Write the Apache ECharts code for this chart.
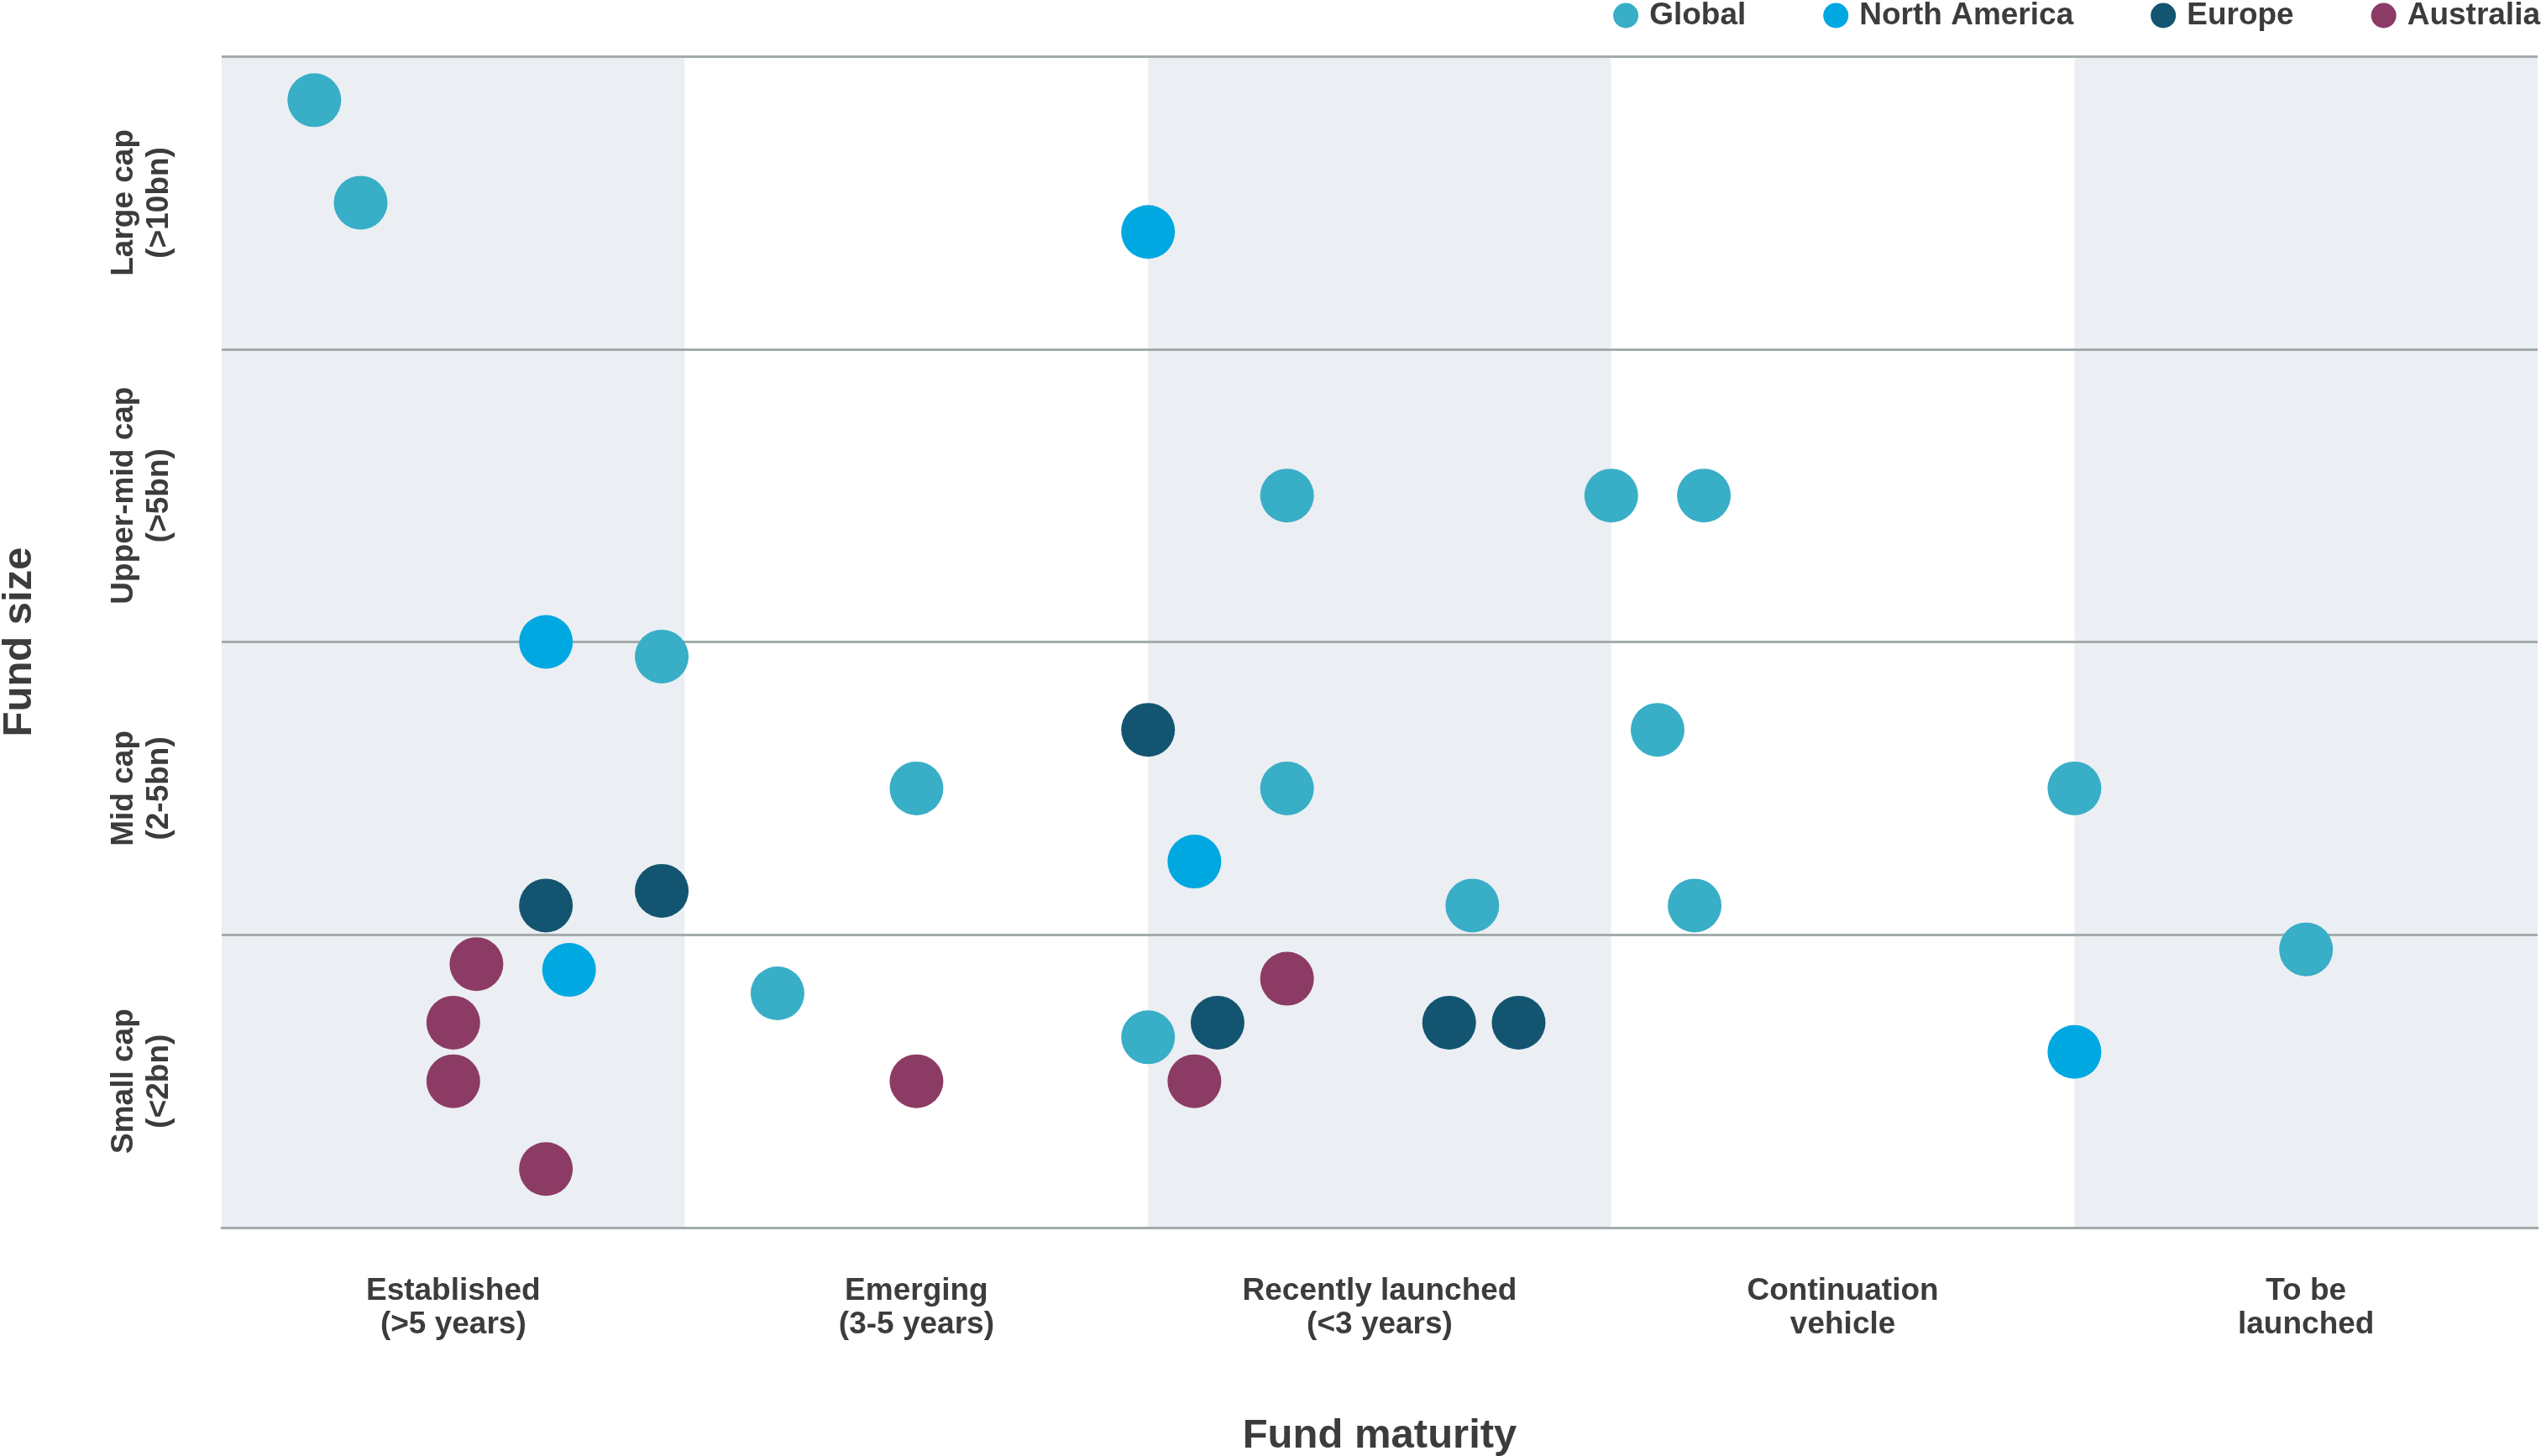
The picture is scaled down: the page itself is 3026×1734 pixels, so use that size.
<!DOCTYPE html>
<html>
<head>
<meta charset="utf-8">
<script src="https://cdn.jsdelivr.net/npm/echarts@6/dist/echarts.min.js"></script>
<style>
  html, body { margin: 0; padding: 0; background: #ffffff; }
  #chart { width: 3026px; height: 1734px; }
</style>
</head>
<body>
<div id="chart"></div>
<script>
// Categories
const maturityCategories = ['Established\n(>5 years)', 'Emerging\n(3-5 years)', 'Recently launched\n(<3 years)', 'Continuation\nvehicle', 'To be\nlaunched'];
const sizeCategories = ['Small cap\n(<2bn)', 'Mid cap\n(2-5bn)', 'Upper-mid cap\n(>5bn)', 'Large cap\n(>10bn)'];

// Series values: [maturity position (0-5), size position (0-4)]
const globalData = [
  [0.20, 3.85], [0.30, 3.50], [2.30, 2.50], [3.00, 2.50], [3.20, 2.50],
  [0.95, 1.95], [1.50, 1.50], [2.30, 1.50], [3.10, 1.70], [4.00, 1.50],
  [2.70, 1.10], [3.18, 1.10], [1.20, 0.80], [2.00, 0.65], [4.50, 0.95]
];
const northAmericaData = [
  [2.00, 3.40], [0.70, 2.00], [2.10, 1.25], [0.75, 0.88], [4.00, 0.60]
];
const europeData = [
  [2.00, 1.70], [0.70, 1.10], [0.95, 1.15], [2.15, 0.70], [2.65, 0.70], [2.80, 0.70]
];
const australiaData = [
  [0.55, 0.90], [0.50, 0.70], [0.50, 0.50], [0.70, 0.20], [1.50, 0.50], [2.30, 0.85], [2.10, 0.50]
];

const seriesNames = ['Global', 'North America', 'Europe', 'Australia'];
const seriesColors = ['#38AEC7', '#00A8E1', '#135570', '#8C3C64'];
const seriesData = [globalData, northAmericaData, europeData, australiaData];

const textColor = '#3c3c3c';
const lineColor = '#A3ABAB';
const fontFamily = '"Liberation Sans", Arial, Helvetica, sans-serif';

const chart = echarts.init(document.getElementById('chart'));
chart.setOption({
  animation: false,
  backgroundColor: '#ffffff',
  legend: {
    right: -4,
    top: -5,
    itemWidth: 30,
    itemHeight: 30,
    itemGap: 92,
    icon: 'circle',
    textStyle: { fontFamily: fontFamily, fontWeight: 'bold', fontSize: 37, color: textColor, padding: [0, 0, 0, 8] },
    data: seriesNames
  },
  grid: { left: 264, right: 4, top: 67, bottom: 272, containLabel: false, outerBoundsMode: 'none' },
  xAxis: [
    {
      type: 'category',
      data: maturityCategories,
      boundaryGap: true,
      z: 0,
      name: 'Fund maturity',
      nameLocation: 'middle',
      nameGap: 224,
      nameTextStyle: { fontFamily: fontFamily, fontWeight: 'bold', fontSize: 49, color: textColor },
      axisLine: { show: true, lineStyle: { color: lineColor, width: 3 } },
      axisTick: { show: false },
      axisLabel: { margin: 56, fontFamily: fontFamily, fontWeight: 'bold', fontSize: 37, color: textColor, lineHeight: 40 },
      splitLine: { show: false },
      splitArea: { show: true, areaStyle: { color: ['#EBEEF3', '#ffffff'] } }
    },
    { type: 'value', min: 0, max: 5, show: false }
  ],
  yAxis: [
    {
      type: 'category',
      data: sizeCategories,
      boundaryGap: true,
      z: 2,
      name: 'Fund size',
      nameLocation: 'middle',
      nameGap: 216,
      nameRotate: 90,
      nameTextStyle: { fontFamily: fontFamily, fontWeight: 'bold', fontSize: 49, color: textColor },
      axisLine: { show: false },
      axisTick: { show: false },
      axisLabel: { rotate: 90, margin: 53, fontFamily: fontFamily, fontWeight: 'bold', fontSize: 37, color: textColor, lineHeight: 42 },
      splitLine: { show: true, showMinLine: true, showMaxLine: true, lineStyle: { color: lineColor, width: 3 } },
      splitArea: { show: false }
    },
    { type: 'value', min: 0, max: 4, show: false }
  ],
  series: seriesNames.map((name, i) => ({
    name: name,
    type: 'scatter',
    xAxisIndex: 1,
    yAxisIndex: 1,
    symbol: 'circle',
    symbolSize: 64,
    z: 5,
    itemStyle: { color: seriesColors[i], opacity: 1 },
    data: seriesData[i]
  }))
});
</script>
</body>
</html>
